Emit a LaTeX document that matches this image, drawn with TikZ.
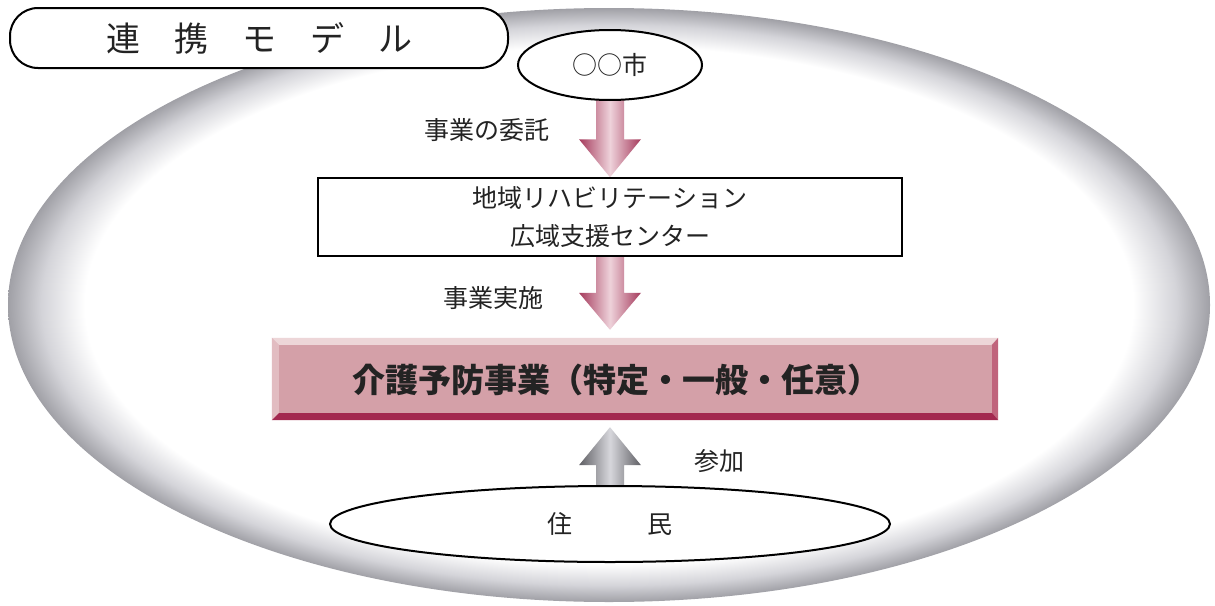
\documentclass[tikz,border=0pt]{standalone}
\usepackage{fontspec}
\setmainfont{Noto Sans CJK JP}
\usetikzlibrary{shapes.geometric,calc}
\definecolor{rimgray}{RGB}{160,160,166}
\definecolor{rimmid}{RGB}{212,212,217}
\definecolor{pkdark}{RGB}{165,58,92}
\definecolor{pklight}{RGB}{238,210,218}
\definecolor{gydark}{RGB}{95,95,100}
\definecolor{gylight}{RGB}{215,215,220}
\definecolor{bvtop}{RGB}{237,214,216}
\definecolor{bvleft}{RGB}{226,188,193}
\definecolor{bvright}{RGB}{192,100,124}
\definecolor{bvbot}{RGB}{163,40,79}
\definecolor{bvface}{RGB}{212,160,168}
\definecolor{txt}{RGB}{35,35,35}
\pgfdeclareradialshading{rim}{\pgfpoint{0bp}{0bp}}{color(0bp)=(white); color(21.8bp)=(white); color(23.6bp)=(rimmid); color(25bp)=(rimgray); color(50bp)=(rimgray)}
\pgfdeclarelayer{bg}
\pgfdeclarelayer{arrowlayer}
\pgfsetlayers{bg,arrowlayer,main}
\tikzset{
  lbl/.style={text=txt, font=\fontsize{25}{30}\selectfont, inner sep=0},
  oval/.style={ellipse, draw, line width=2pt, fill=white, inner sep=0, text=txt, font=\fontsize{25}{30}\selectfont},
  pinkarrow/.style={left color=pkdark, right color=pkdark, middle color=pklight},
  grayarrow/.style={left color=gydark, right color=gydark, middle color=gylight},
}
\begin{document}
\begin{tikzpicture}[x=1pt,y=-1pt]
\useasboundingbox (0,0) rectangle (1215,605);
\begin{pgfonlayer}{bg}
\shade[shading=rim] (609,305) ellipse [x radius=601, y radius=297];
\end{pgfonlayer}

\node[draw, line width=2pt, fill=white, rounded corners=28pt, minimum width=498pt, minimum height=60pt, inner sep=0, font=\fontsize{34}{40}\selectfont, text=txt] (title) at (259,38) {連　携　モ　デ　ル};

\node[oval, minimum width=184pt, minimum height=70pt] (city) at (610,65) {○○市};

\node[draw, line width=1.5pt, fill=white, minimum width=584pt, minimum height=78pt, inner sep=0, align=center, text=txt, font=\fontsize{25}{38}\selectfont] (center) at (610,217) {地域リハビリテーション\\広域支援センター};

\node[fill=bvface, minimum width=726pt, minimum height=82pt, inner sep=0] (main) at (635,379) {};
\fill[bvtop] (main.north west) -- (main.north east) -- ++(-7,7) -- ($(main.north west)+(7,7)$) -- cycle;
\fill[bvleft] (main.north west) -- ++(7,7) -- ($(main.south west)+(7,-7)$) -- (main.south west) -- cycle;
\fill[bvright] (main.north east) -- ++(-6,7) -- ($(main.south east)+(-6,-7)$) -- (main.south east) -- cycle;
\fill[bvbot] (main.south west) -- (main.south east) -- ++(-6,-7) -- ($(main.south west)+(7,-7)$) -- cycle;
\node[text=txt, font=\fontsize{33}{40}\selectfont\bfseries, inner sep=0] (maintext) at (616,380) {介護予防事業（特定・一般・任意）};

\node[oval, minimum width=560pt, minimum height=76pt] (res) at (610,524) {住　　　民};

\coordinate (t2) at ($(center.south |- main.north)+(0,-8)$);
\coordinate (t3) at ($(res.north |- main.south)+(0,7)$);

\begin{pgfonlayer}{arrowlayer}
\shade[pinkarrow] ($(city.south)+(-14,-8)$) -- ($(center.north)+(-14,-38)$) -- ($(center.north)+(-31,-38)$) -- (center.north) -- ($(center.north)+(31,-38)$) -- ($(center.north)+(14,-38)$) -- ($(city.south)+(14,-8)$) -- cycle;
\shade[pinkarrow] ($(center.south)+(-14,0)$) -- ($(t2)+(-14,-37)$) -- ($(t2)+(-31,-37)$) -- (t2) -- ($(t2)+(31,-37)$) -- ($(t2)+(14,-37)$) -- ($(center.south)+(14,0)$) -- cycle;
\shade[grayarrow] ($(res.north)+(-14,8)$) -- ($(t3)+(-14,38)$) -- ($(t3)+(-31,38)$) -- (t3) -- ($(t3)+(31,38)$) -- ($(t3)+(14,38)$) -- ($(res.north)+(14,8)$) -- cycle;
\end{pgfonlayer}

\node[lbl] (l1) at (487,130) {事業の委託};
\node[lbl] (l2) at (493,298) {事業実施};
\node[lbl] (l3) at (719,461) {参加};
\end{tikzpicture}
\end{document}
